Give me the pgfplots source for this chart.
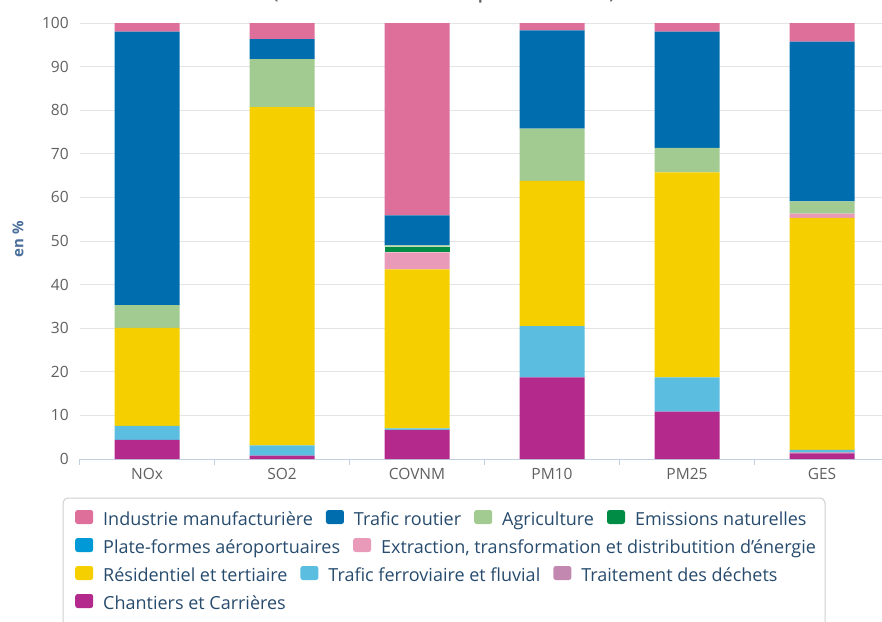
\documentclass[border=0pt]{standalone}
\usepackage{pgfplots}
\pgfplotsset{compat=1.18}
\usepackage{pgfplotstable}
\usepackage{fontspec}
\setmainfont{Open Sans}
\definecolor{cInd}{HTML}{DE6F9B}
\definecolor{cTraf}{HTML}{006EAE}
\definecolor{cAgri}{HTML}{A2CB92}
\definecolor{cNat}{HTML}{008C44}
\definecolor{cPlat}{HTML}{0099D8}
\definecolor{cExtr}{HTML}{E89AB8}
\definecolor{cRes}{HTML}{F5CF00}
\definecolor{cFer}{HTML}{5BBDE0}
\definecolor{cDech}{HTML}{C288B0}
\definecolor{cChan}{HTML}{B42A8C}
\definecolor{axcol}{HTML}{C0D0E0}
\definecolor{gridcol}{HTML}{E4E4E4}
\definecolor{labcol}{HTML}{606060}
\definecolor{titcol}{HTML}{4A6E9A}
\definecolor{legtext}{HTML}{274B6D}

\pgfplotstableread{
x Chan Dech Fer Res Extr Plat Nat Agri Traf Ind
0 4.4  0.0 3.2 22.5 0.0 0.0 0.0 5.2 62.7 2.0
1 0.8  0.0 2.3 77.6 0.0 0.0 0.0 11.0 4.6 3.7
2 6.6  0.1 0.3 36.5 3.9 0.0 1.3 0.3 6.9 44.1
3 18.7 0.0 11.8 33.3 0.0 0.0 0.0 12.0 22.5 1.7
4 10.85 0.0 7.9 47.0 0.0 0.0 0.0 5.6 26.7 2.0
5 1.3  0.2 0.6 53.2 1.0 0.0 0.0 2.8 36.6 4.3
}\data

\newcommand\sq[1]{\tikz[baseline=-1pt]\fill[#1,rounded corners=2.5pt](0,0) rectangle (18pt,14pt);}
\newcommand\gap{\hspace{13pt}}
\newcommand\sgap{\hspace{10pt}}

\begin{document}
\begin{tikzpicture}
\useasboundingbox (0pt,0pt) rectangle (882pt,-621pt);
\node[anchor=base, font=\fontsize{15}{18}\selectfont\bfseries, text=labcol] at (444pt,1pt) {(estimations faites en 2014 pour l'année 2012)};
\begin{axis}[
  at={(79.5pt,-459pt)}, anchor=south west,
  scale only axis, width=810pt, height=436pt,
  ybar stacked, bar width=65pt,
  xmin=-0.5, xmax=5.5, ymin=0, ymax=100,
  xtick={0,...,5}, xticklabels={NOx,SO2,COVNM,PM10,PM25,GES},
  major x tick style={draw=none},
  minor xtick={-0.5,0.5,...,5.5}, minor tick length=6pt,
  tick align=outside,
  minor x tick style={draw=axcol, line width=0.8pt},
  ytick={0,10,...,100}, ytick style={draw=none},
  ymajorgrids, major grid style={draw=gridcol, line width=0.8pt},
  axis lines*=left,
  x axis line style={draw=axcol, line width=0.8pt},
  y axis line style={draw=none},
  xticklabel style={font=\fontsize{15.5}{17}\selectfont, text=labcol, yshift=-1pt},
  yticklabel style={font=\fontsize{15.5}{17}\selectfont, text=labcol, xshift=-3pt},
  /pgf/number format/assume math mode=true,
  every axis plot/.append style={draw=none},
]
\addplot[fill=cChan] table[x=x,y=Chan]{\data};
\addplot[fill=cDech] table[x=x,y=Dech]{\data};
\addplot[fill=cFer] table[x=x,y=Fer]{\data};
\addplot[fill=cRes] table[x=x,y=Res]{\data};
\addplot[fill=cExtr] table[x=x,y=Extr]{\data};
\addplot[fill=cPlat] table[x=x,y=Plat]{\data};
\addplot[fill=cNat] table[x=x,y=Nat]{\data};
\addplot[fill=cAgri] table[x=x,y=Agri]{\data};
\addplot[fill=cTraf] table[x=x,y=Traf]{\data};
\addplot[fill=cInd] table[x=x,y=Ind]{\data};
\end{axis}
\node[rotate=90, font=\fontsize{15}{17}\selectfont\bfseries, text=titcol] at (18pt,-239pt) {en \%};
\draw[draw=gridcol!80!gray, line width=1pt, rounded corners=5pt] (63pt,-498pt) rectangle (825pt,-640pt);
\begin{scope}[every node/.style={anchor=base west, inner sep=0pt, font=\fontsize{18}{19}\selectfont, text=legtext}]
\node at (75pt,-525pt) {\sq{cInd}\sgap Industrie manufacturière\gap\sq{cTraf}\sgap Trafic routier\gap\sq{cAgri}\sgap Agriculture\gap\sq{cNat}\sgap Emissions naturelles};
\node at (75pt,-553pt) {\sq{cPlat}\sgap Plate-formes aéroportuaires\gap\sq{cExtr}\sgap Extraction, transformation et distributition d'énergie};
\node at (75pt,-581pt) {\sq{cRes}\sgap Résidentiel et tertiaire\gap\sq{cFer}\sgap Trafic ferroviaire et fluvial\gap\sq{cDech}\sgap Traitement des déchets};
\node at (75pt,-609pt) {\sq{cChan}\sgap Chantiers et Carrières};
\end{scope}
\end{tikzpicture}
\end{document}
